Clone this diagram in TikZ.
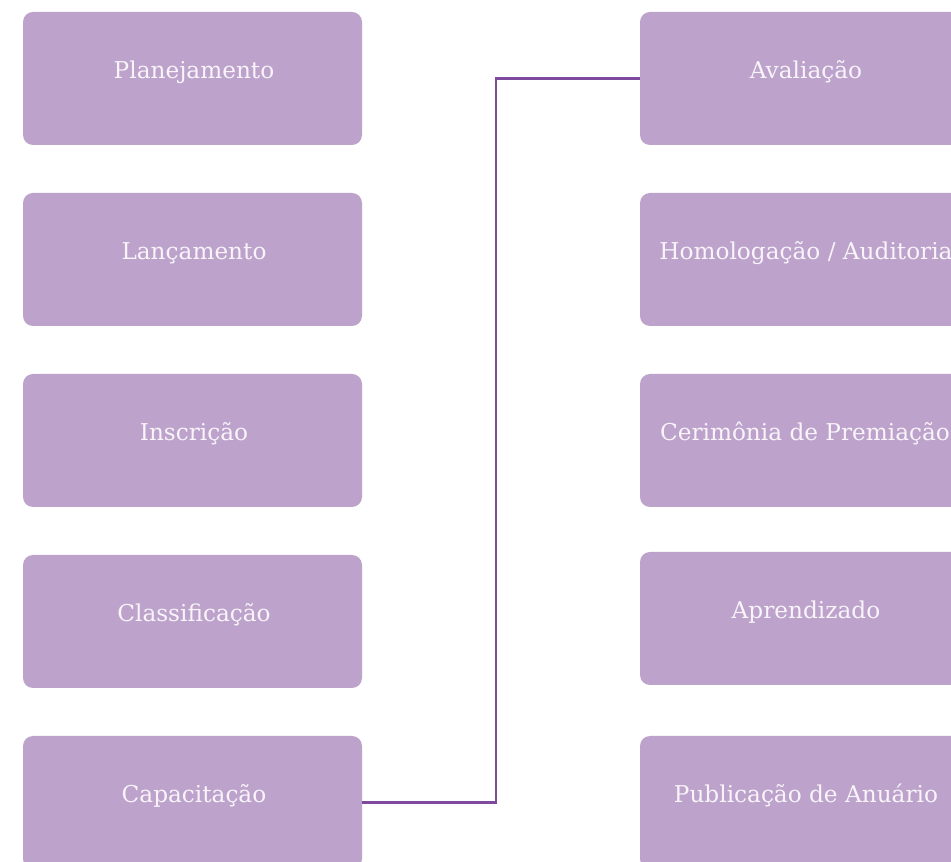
\documentclass[tikz,border=0pt]{standalone}
\usepackage{fontspec}
\setmainfont{DejaVu Serif}
\definecolor{boxfill}{HTML}{BDA3CB}
\definecolor{boxtext}{HTML}{F8F4FA}
\definecolor{linecol}{HTML}{7D4A9D}
\begin{document}
\begin{tikzpicture}[x=0.75pt,y=-0.75pt,
  stagebox/.style={rectangle, rounded corners=7.5pt, fill=boxfill, draw=none,
    minimum width=254.25pt, minimum height=99.75pt, inner sep=0pt, anchor=center},
  stagetext/.style={anchor=base, text=boxtext, inner sep=0pt,
    font=\fontsize{17.4pt}{20pt}\selectfont},
  conn/.style={draw=linecol, line width=2pt}]
\useasboundingbox (0,0) rectangle (951,862);
\fill[white] (0,0) rectangle (951,862);
\clip (0,0) rectangle (951,862);
% left column
\node[stagebox] (l1) at (192.5,78.5) {};
\node[stagebox] (l2) at (192.5,259.5) {};
\node[stagebox] (l3) at (192.5,440.5) {};
\node[stagebox] (l4) at (192.5,621.5) {};
\node[stagebox] (l5) at (192.5,802.5) {};
\node[stagetext] (t1) at (194,79) {Planejamento};
\node[stagetext] (t2) at (194,260) {Lançamento};
\node[stagetext] (t3) at (194,441) {Inscrição};
\node[stagetext] (t4) at (194,622) {Classificação};
\node[stagetext] (t5) at (194,803) {Capacitação};
% right column
\node[stagebox] (r1) at (809.5,78.5) {};
\node[stagebox] (r2) at (809.5,259.5) {};
\node[stagebox] (r3) at (809.5,440.5) {};
\node[stagebox] (r4) at (809.5,618.5) {};
\node[stagebox] (r5) at (809.5,802.5) {};
\node[stagetext] (s1) at (806,79) {Avaliação};
\node[stagetext] (s2) at (806,260) {Homologação / Auditoria};
\node[stagetext] (s3) at (805,441) {Cerimônia de Premiação};
\node[stagetext] (s4) at (806,619) {Aprendizado};
\node[stagetext] (s5) at (806,803) {Publicação de Anuário};
% connector
\coordinate (bend) at (496,0);
\draw[conn] (l5.east) -- (l5.east -| bend) -- (bend |- r1.west) -- (r1.west);
\end{tikzpicture}
\end{document}
